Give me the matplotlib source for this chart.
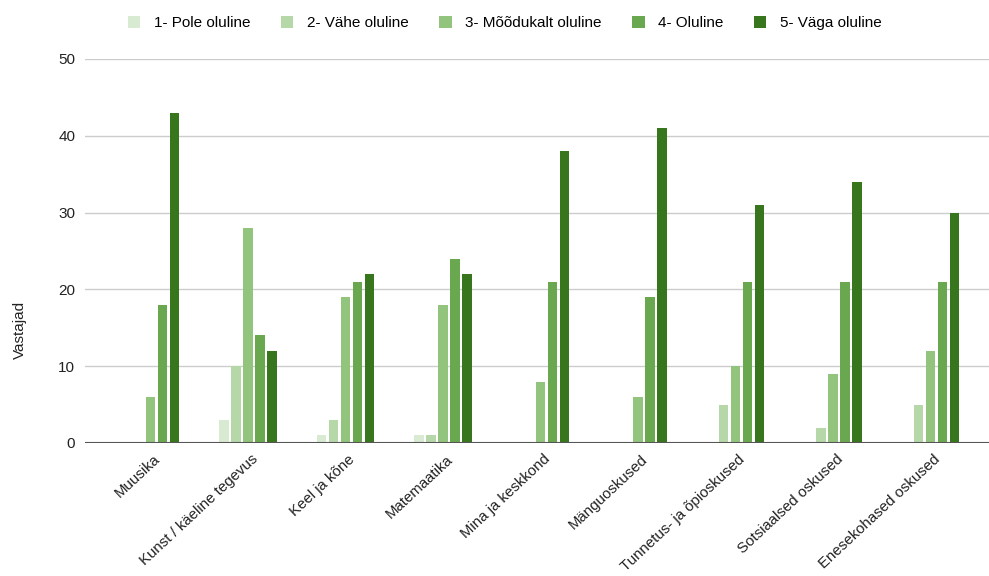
import matplotlib.pyplot as plt
from matplotlib.transforms import ScaledTranslation
import numpy as np

plt.rcParams['font.family'] = ['Liberation Sans', 'DejaVu Sans']

categories = ['Muusika', 'Kunst / käeline tegevus', 'Keel ja kõne', 'Matemaatika',
              'Mina ja keskkond', 'Mänguoskused', 'Tunnetus- ja õpioskused',
              'Sotsiaalsed oskused', 'Enesekohased oskused']
series_names = ['1- Pole oluline', '2- Vähe oluline', '3- Mõõdukalt oluline',
                '4- Oluline', '5- Väga oluline']
pole = [0, 3, 1, 1, 0, 0, 0, 0, 0]
vahe = [0, 10, 3, 1, 0, 0, 5, 2, 5]
moodukalt = [6, 28, 19, 18, 8, 6, 10, 9, 12]
oluline = [18, 14, 21, 24, 21, 19, 21, 21, 21]
vaga = [43, 12, 22, 22, 38, 41, 31, 34, 30]
colors = ['#d9ead3', '#b6d7a8', '#93c47d', '#6aa84f', '#38761d']

fig = plt.figure(figsize=(9.89, 5.76), dpi=100)
ax = fig.add_axes([85 / 989, 1 - 443 / 576, 905 / 989, 384 / 576])

x = np.arange(len(categories))
step = 0.123
width = 0.097
for i, (vals, name, c) in enumerate(zip([pole, vahe, moodukalt, oluline, vaga],
                                        series_names, colors)):
    ax.bar(x + (i - 2) * step, vals, width=width, color=c, label=name, zorder=3)

ax.set_xlim(-0.67, 8.61)
ax.set_ylim(0, 50)
ax.set_yticks(range(0, 51, 10))
ax.yaxis.grid(True, color='#cccccc', linewidth=1, zorder=0)
ax.axhline(0, color='#555555', linewidth=1.5, zorder=4)
for s in ax.spines.values():
    s.set_visible(False)
ax.tick_params(axis='both', length=0, labelsize=11, colors='#222222')
ax.tick_params(axis='y', pad=7)

ax.set_xticks(x)
ax.set_xticklabels(categories, rotation=43, ha='right', va='top',
                   rotation_mode='anchor', fontsize=10.8)
# nudge labels down/right like the original sheet chart
shift = ScaledTranslation(2 / 72, -3 / 72, fig.dpi_scale_trans)
for lab in ax.get_xticklabels():
    lab.set_transform(lab.get_transform() + shift)

fig.text(20 / 989, 1 - 330 / 576, 'Vastajad', rotation=90, ha='center',
         va='center', fontsize=11, color='#222222')

fig.legend(loc='center', bbox_to_anchor=(505 / 989, 1 - 23 / 576), ncol=5,
           frameon=False, fontsize=11, handlelength=0.8, handleheight=0.8,
           columnspacing=2.0, handletextpad=0.9)

fig.savefig('out.png', dpi=100)
